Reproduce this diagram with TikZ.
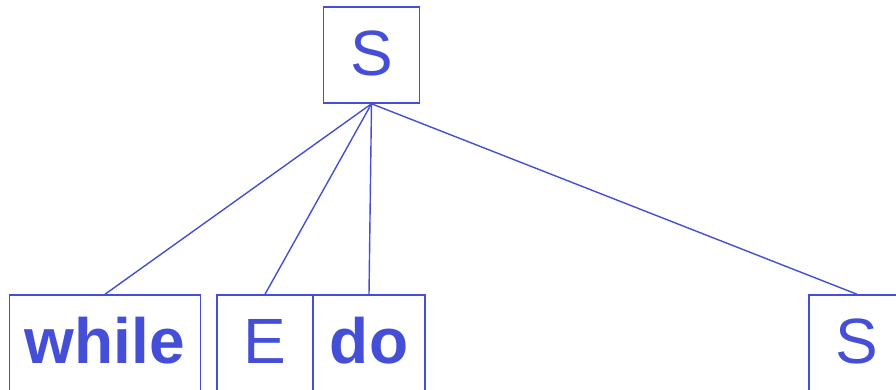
\documentclass[tikz,border=0pt]{standalone}
\usepackage{fontspec}
\setmainfont{Liberation Sans}
\definecolor{treeblue}{RGB}{68,78,214}
\tikzstyle{treebox}=[draw=treeblue,line width=1.5pt,text=treeblue,minimum height=96pt,inner sep=0pt,text height=40pt,text depth=0pt,font=\fontsize{64}{76}\selectfont]
\tikzstyle{treeline}=[treeblue,line width=1.4pt]

\begin{document}
\begin{tikzpicture}[x=1pt,y=-1pt]
\useasboundingbox (0,0) rectangle (896,389);
\clip (0,0) rectangle (896,389);

\node[treebox,minimum width=96pt] (root) at (371.5,55) {S};

\node[treebox,minimum width=191pt] (while) at (105,343) {\textbf{while}};
\node[treebox,minimum width=96pt] (cond) at (265,343) {E};
\node[treebox,minimum width=112pt] (do) at (369,343) {\textbf{do}};
\node[treebox,minimum width=96pt] (body) at (857,343) {S};

\draw[treeline] (root.south) -- (while.north);
\draw[treeline] (root.south) -- (cond.north);
\draw[treeline] (root.south) -- (do.north);
\draw[treeline] (root.south) -- (body.north);
\end{tikzpicture}
\end{document}
